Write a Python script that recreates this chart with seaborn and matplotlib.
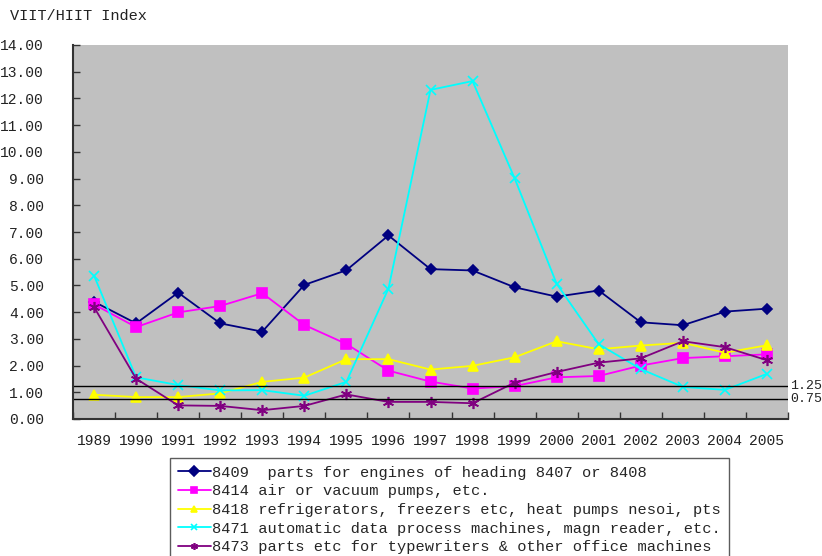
import pandas as pd
import matplotlib.pyplot as plt
import numpy as np
import seaborn as sns

years = [str(y) for y in range(1989, 2006)]
hs8409 = [4.39, 3.58, 4.73, 3.58, 3.27, 5.02, 5.57, 6.87, 5.61, 5.56, 4.93, 4.58, 4.81, 3.62, 3.51, 4.02, 4.13]
hs8414 = [4.29, 3.44, 3.99, 4.23, 4.71, 3.52, 2.81, 1.81, 1.40, 1.14, 1.23, 1.56, 1.61, 2.00, 2.28, 2.35, 2.42]
hs8418 = [0.91, 0.82, 0.82, 0.96, 1.39, 1.55, 2.24, 2.24, 1.85, 1.99, 2.31, 2.91, 2.61, 2.75, 2.85, 2.48, 2.76]
hs8471 = [5.37, 1.56, 1.27, 1.07, 1.08, 0.87, 1.39, 4.88, 12.32, 12.65, 9.01, 5.06, 2.80, 1.87, 1.20, 1.09, 1.69]
hs8473 = [4.19, 1.51, 0.51, 0.49, 0.33, 0.49, 0.92, 0.64, 0.64, 0.59, 1.36, 1.76, 2.11, 2.27, 2.91, 2.69, 2.20]

labels = ["8409  parts for engines of heading 8407 or 8408",
          "8414 air or vacuum pumps, etc.",
          "8418 refrigerators, freezers etc, heat pumps nesoi, pts",
          "8471 automatic data process machines, magn reader, etc.",
          "8473 parts etc for typewriters & other office machines"]
thresholds = [1.25, 0.75]
threshold_labels = ["1.25", "0.75"]

colors = ["#000080", "#FF00FF", "#FFFF00", "#00FFFF", "#800080"]
markers = ["D", "s", "^", "x", (6, 2, 0)]
msizes = [5, 6.5, 7.5, 7, 8]

sns.set_theme(style="white")
plt.rcParams["font.family"] = ["Liberation Mono", "DejaVu Sans Mono"]
plt.rcParams["font.size"] = 10

fig = plt.figure(figsize=(8.22, 5.56), dpi=100)
ax = fig.add_axes([73/822, 1-419/556, 715/822, 374/556])
ax.set_facecolor("#C0C0C0")

series = [hs8409, hs8414, hs8418, hs8471, hs8473]
for vals, lab, c, m, ms in zip(series, labels, colors, markers, msizes):
    df = pd.DataFrame({"year": years, "value": vals})
    sns.lineplot(data=df, x="year", y="value", ax=ax, color=c, marker=m,
                 markersize=ms, markeredgecolor=c, markeredgewidth=1.2,
                 linewidth=1.3, label=lab, sort=False)

for t, tl in zip(thresholds, threshold_labels):
    ax.axhline(t, color="black", linewidth=1)
    ax.text(1.003, t, tl, transform=ax.get_yaxis_transform(), va="center",
            ha="left", fontsize=9.5, color="#222222")

ax.set_xlim(-0.5, len(years) - 0.5)
ax.set_ylim(0, 14)
ax.set_yticks(np.arange(0, 15, 1))
ax.set_yticklabels([f"{v:.2f}" for v in np.arange(0, 15, 1)])
ax.set_xticks(range(len(years)))
ax.set_xticks(np.arange(-0.5, len(years), 1), minor=True)
ax.tick_params(axis="x", which="major", length=0, pad=11, labelsize=10.5, colors="#222222")
ax.tick_params(axis="x", which="minor", direction="in", length=5, width=1, color="#333333", bottom=True)
ax.tick_params(axis="y", direction="in", length=5, width=1, color="#333333", left=True, pad=21, labelsize=10.5, labelcolor="#222222")
ax.set_xlabel("")
ax.set_ylabel("")
for s in ["top", "right"]:
    ax.spines[s].set_visible(False)
for s in ["left", "bottom"]:
    ax.spines[s].set_color("#333333")
    ax.spines[s].set_linewidth(1.5)

fig.text(10/822, 1-16/556, "VIIT/HIIT Index", fontsize=11, va="center", ha="left", color="#222222")

handles, labs = ax.get_legend_handles_labels()
ax.get_legend().remove()
leg = fig.legend(handles, labs, loc="upper left", bbox_to_anchor=(170/822, 1-458/556),
                 frameon=True, fancybox=False, edgecolor="#333333", fontsize=11.1,
                 handlelength=2.15, handletextpad=0.1, labelspacing=0.3,
                 borderpad=0.5, borderaxespad=0)
leg.get_frame().set_linewidth(1)
for h in leg.legend_handles:
    h.set_markersize(5)

fig.savefig("out.png", dpi=100)
